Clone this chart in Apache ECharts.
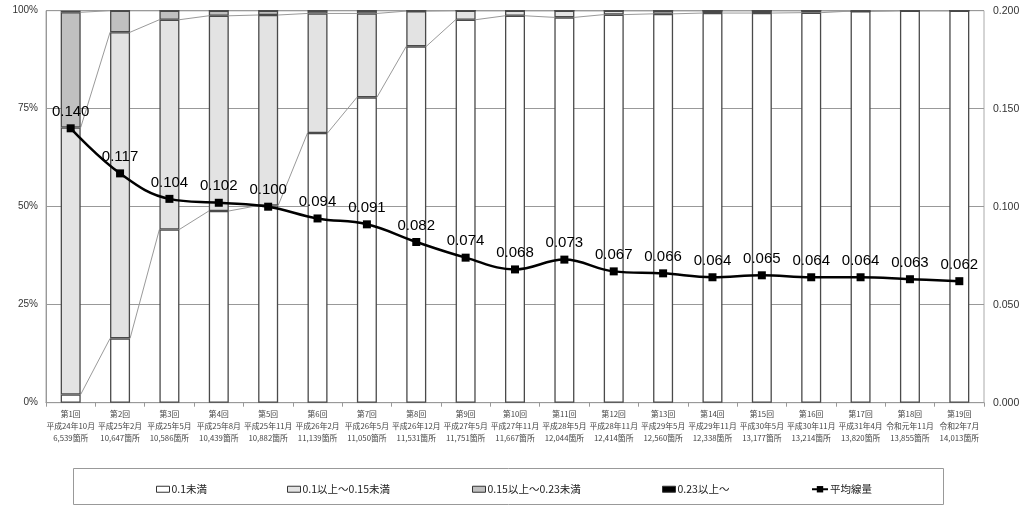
<!DOCTYPE html>
<html>
<head>
<meta charset="utf-8">
<script src="https://cdn.jsdelivr.net/npm/echarts@6/dist/echarts.min.js"></script>
<style>
html,body{margin:0;padding:0;background:#fff;}
#chart{width:1024px;height:509px;}
</style>
</head>
<body>
<div id="chart"></div>
<script>
// ---- Data ----
const rounds = ['第1回','第2回','第3回','第4回','第5回','第6回','第7回','第8回','第9回','第10回','第11回','第12回','第13回','第14回','第15回','第16回','第17回','第18回','第19回'];
const dates = ['平成24年10月','平成25年2月','平成25年5月','平成25年8月','平成25年11月','平成26年2月','平成26年5月','平成26年12月','平成27年5月','平成27年11月','平成28年5月','平成28年11月','平成29年5月','平成29年11月','平成30年5月','平成30年11月','平成31年4月','令和元年11月','令和2年7月'];
const counts = ['6,539箇所','10,647箇所','10,586箇所','10,439箇所','10,882箇所','11,139箇所','11,050箇所','11,531箇所','11,751箇所','11,667箇所','12,044箇所','12,414箇所','12,560箇所','12,338箇所','13,177箇所','13,214箇所','13,820箇所','13,855箇所','14,013箇所'];

const seriesNames = ['0.1未満','0.1以上～0.15未満','0.15以上～0.23未満','0.23以上～','平均線量'];

// percentage shares (each bar sums to 100)
const below010 = [2.1,16.4,44.2,48.9,50.3,68.8,77.9,90.9,97.7,98.7,98.3,99.0,99.2,99.4,99.4,99.5,99.9,100,100];
const from010to015 = [68.1,78.1,53.5,49.8,48.6,30.5,21.4,9.0,2.3,1.3,1.7,1.0,0.8,0.6,0.6,0.5,0,0,0];
const from015to023 = [29.4,5.5,2.3,1.3,1.1,0.7,0.7,0.1,0,0,0,0,0,0,0,0,0,0,0];
const above023 = [0.4,0,0,0,0,0,0,0,0,0,0,0,0,0,0,0,0.1,0,0];

// average dose rate
const avgDose = [0.140,0.117,0.104,0.102,0.100,0.094,0.091,0.082,0.074,0.068,0.073,0.067,0.066,0.064,0.065,0.064,0.064,0.063,0.062];

const leftTicks = [0,25,50,75,100];
const rightTicks = [0,0.05,0.1,0.15,0.2];

// ---- Build ----
const categories = rounds.map((r,i)=> r + '\n' + dates[i] + '\n' + counts[i]);
const BAR_W = 20;

const stacks = [below010, from010to015, from015to023, above023];
const cum = [];
let run = below010.map(()=>0);
stacks.forEach(s=>{ run = run.map((v,i)=>v+s[i]); cum.push(run.slice()); });
// connector (series line) data: [index, top at i, top at i+1]
const connectors = [];
cum.slice(0,3).forEach(c=>{
  for(let i=0;i<c.length-1;i++) connectors.push([i, c[i], c[i+1]]);
});

const chart = echarts.init(document.getElementById('chart'));
const cjk = '"Noto Sans CJK JP", "Noto Sans", sans-serif';

const barStyle = (color)=>({color: color, borderColor:'#4a4a4a', borderWidth:1.3});

const legendPos = [151, 282, 467, 657, 806];
const option = {
  animation:false,
  backgroundColor:'#fff',
  grid:{left:46,right:40,top:10.7,bottom:106.3,show:true,borderColor:'#aaa',borderWidth:1,backgroundColor:'transparent'},
  graphic:[{type:'rect',shape:{x:73.5,y:468.5,width:870,height:36},style:{fill:'none',stroke:'#999',lineWidth:1},silent:true}],
  legend: seriesNames.map((n,k)=>({
    data:[n], left:legendPos[k], top:479, itemWidth:k===4?16:13, itemHeight:k===4?8:6, itemGap:2,
    icon: k===4 ? undefined : 'rect',
    itemStyle: k===4 ? undefined : {borderColor:'#333',borderWidth:1},
    textStyle:{fontFamily:cjk,fontSize:10.5,color:'#222',padding:[0,0,0,-3]},
    selectedMode:false
  })),
  xAxis:{
    type:'category', data:categories,
    axisLine:{lineStyle:{color:'#999'}},
    axisTick:{show:true,length:4,lineStyle:{color:'#999'}},
    axisLabel:{interval:0,fontFamily:cjk,fontSize:7.8,lineHeight:12,color:'#444',margin:5}
  },
  yAxis:[{
    type:'value',min:0,max:100,interval:25,
    axisLine:{show:true,lineStyle:{color:'#999'}},
    axisTick:{show:false},
    splitLine:{lineStyle:{color:'#999'}},
    axisLabel:{formatter:v=>v+'%',fontFamily:'"Liberation Sans", sans-serif',fontSize:10,color:'#333',margin:8}
  },{
    type:'value',min:0,max:0.2,interval:0.05,
    axisLine:{show:false},axisTick:{show:false},splitLine:{show:false},
    axisLabel:{formatter:v=>v.toFixed(3),fontFamily:'"Liberation Sans", sans-serif',fontSize:10.5,color:'#333',margin:9}
  }],
  series:[
    {name:seriesNames[0],type:'bar',stack:'s',data:below010,barWidth:BAR_W,itemStyle:barStyle('#ffffff')},
    {name:seriesNames[1],type:'bar',stack:'s',data:from010to015,barWidth:BAR_W,itemStyle:barStyle('#e3e3e3')},
    {name:seriesNames[2],type:'bar',stack:'s',data:from015to023,barWidth:BAR_W,itemStyle:barStyle('#c0c0c0')},
    {name:seriesNames[3],type:'bar',stack:'s',data:above023,barWidth:BAR_W,itemStyle:barStyle('#000000')},
    {
      name:'connectors',type:'custom',data:connectors,encode:{x:0,y:[1,2]},silent:true,z:1,
      renderItem:function(params,api){
        const i = api.value(0);
        const p1 = api.coord([i, api.value(1)]);
        const p2 = api.coord([i+1, api.value(2)]);
        return {type:'line',shape:{x1:p1[0]+BAR_W/2,y1:p1[1],x2:p2[0]-BAR_W/2,y2:p2[1]},style:{stroke:'#9a9a9a',lineWidth:1}};
      }
    },
    {
      name:seriesNames[4],type:'line',yAxisIndex:1,data:avgDose,smooth:0.4,
      symbol:'rect',symbolSize:8,z:5,
      lineStyle:{color:'#000',width:2.5},itemStyle:{color:'#000'},
      label:{show:true,position:'top',distance:5,formatter:p=>p.value.toFixed(3),
        fontFamily:'"Liberation Sans", sans-serif',fontSize:15,color:'#000'}
    }
  ]
};
chart.setOption(option);
</script>
</body>
</html>
